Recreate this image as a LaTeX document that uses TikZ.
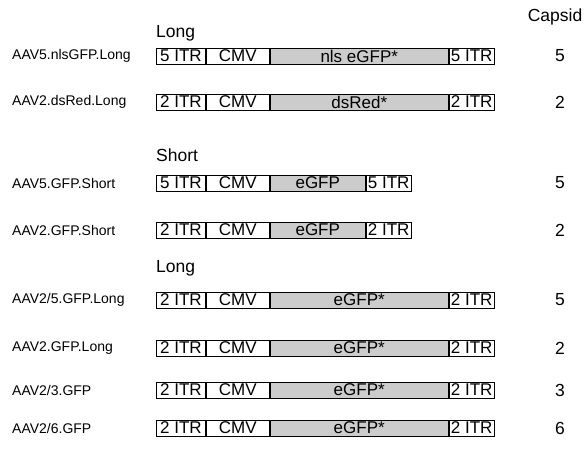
\documentclass[tikz,border=0pt]{standalone}
\usepackage{fontspec}
\setmainfont{Liberation Sans}
\newcommand{\plasmidrow}[6]{% #1 id, #2 label, #3 y, #4 itr, #5 gene, #6 gene width
  \node[lbl] (l#1) at (12,#3) {#2};
  \node[seg,minimum width=49pt] (a#1) at (156,#3) {#4 ITR};
  \node[seg,minimum width=63pt] (b#1) at (a#1.east) {CMV};
  \node[gene,minimum width=#6pt] (g#1) at (b#1.east) {#5};
  \node[seg,minimum width=45pt] (c#1) at (g#1.east) {#4 ITR};
}
\begin{document}
\begin{tikzpicture}[x=1pt,y=-1pt,
  seg/.style={draw=black,line width=0.9pt,minimum height=16pt,inner sep=0pt,anchor=west,font=\fontsize{17}{17}\selectfont},
  gene/.style={seg,fill=black!20},
  lbl/.style={anchor=west,font=\fontsize{14}{14}\selectfont,inner sep=0pt},
  hdr/.style={anchor=west,font=\fontsize{17.5}{17.5}\selectfont,inner sep=0pt},
  capnum/.style={font=\fontsize{17.5}{17.5}\selectfont,inner sep=0pt}]
\useasboundingbox (0,0) rectangle (586,457);
% headers
\node[capnum] (capsid) at (555,17) {Capsid};
\node[hdr] (long1) at (156,33) {Long};
\node[hdr] (short) at (156,155) {Short};
\node[hdr] (long2) at (156,268) {Long};
\plasmidrow{r1}{AAV5.nlsGFP.Long}{56}{5}{nls eGFP*}{178}
\node[capnum] (n1) at (560,56) {5};
\plasmidrow{r2}{AAV2.dsRed.Long}{102}{2}{dsRed*}{178}
\node[capnum] (n2) at (560,102) {2};
\plasmidrow{r3}{AAV5.GFP.Short}{183}{5}{eGFP}{95}
\node[capnum] (n3) at (560,183) {5};
\plasmidrow{r4}{AAV2.GFP.Short}{230}{2}{eGFP}{95}
\node[capnum] (n4) at (560,230) {2};
\plasmidrow{r5}{AAV2/5.GFP.Long}{300}{2}{eGFP*}{178}
\node[capnum] (n5) at (560,300) {5};
\plasmidrow{r6}{AAV2.GFP.Long}{348}{2}{eGFP*}{178}
\node[capnum] (n6) at (560,348) {2};
\plasmidrow{r7}{AAV2/3.GFP}{390}{2}{eGFP*}{178}
\node[capnum] (n7) at (560,390) {3};
\plasmidrow{r8}{AAV2/6.GFP}{428}{2}{eGFP*}{178}
\node[capnum] (n8) at (560,428) {6};
\end{tikzpicture}
\end{document}
